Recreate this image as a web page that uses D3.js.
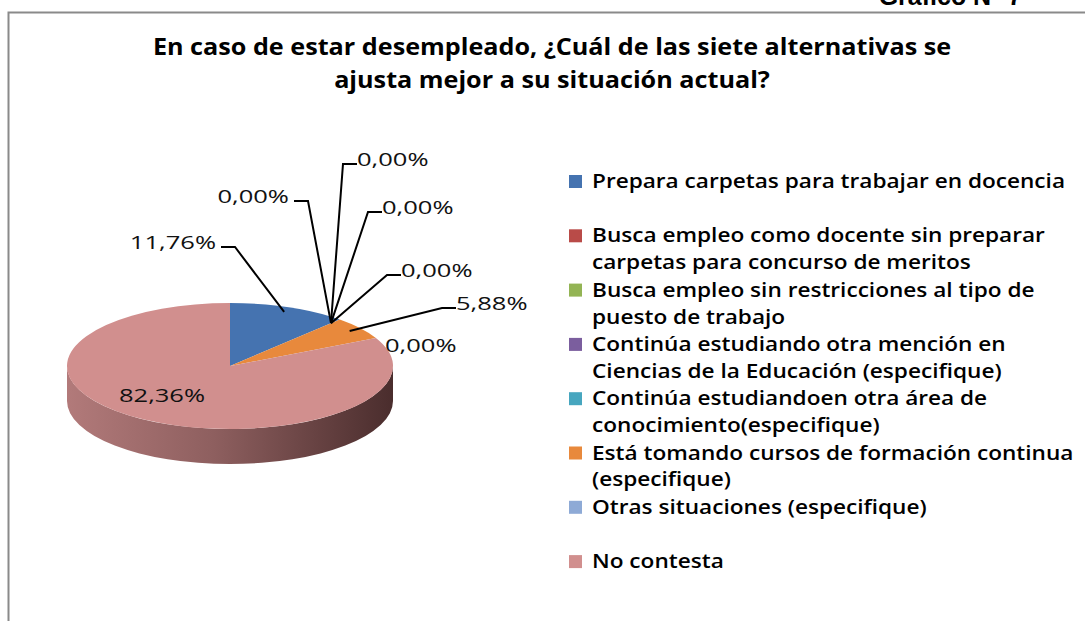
<!DOCTYPE html>
<html>
<head>
<meta charset="utf-8">
<script src="https://cdn.jsdelivr.net/npm/d3@7"></script>
<style>
  body { margin: 0; background: #fff; }
  text { font-family: "Open Sans", sans-serif; }
</style>
</head>
<body>
<div id="chart"></div>
<script>
// data
const title = [
  'En caso de estar desempleado, ¿Cuál de las siete alternativas se',
  'ajusta mejor a su situación actual?'
];
const categories = [
  'Prepara carpetas para trabajar en docencia',
  'Busca empleo como docente sin preparar carpetas para concurso de meritos',
  'Busca empleo sin restricciones al tipo de puesto de trabajo',
  'Continúa estudiando otra mención en Ciencias de la Educación (especifique)',
  'Continúa estudiandoen otra área de conocimiento(especifique)',
  'Está tomando cursos de formación continua (especifique)',
  'Otras situaciones (especifique)',
  'No contesta'
];
const values = [11.76, 0, 0, 0, 0, 5.88, 0, 82.36];
const colors = ['#4573B0', '#B94B48', '#93B454', '#7B5E9E', '#47A6BF', '#E8893C', '#8EAAD6', '#D18F8E'];

// where Excel put the data labels, as offsets from the pie centre
const labelLayout = [
  {dx: 5, dy: -119, side: 'left'},
  {dx: 78, dy: -165, side: 'left'},
  {dx: 113, dy: -202, side: 'right'},
  {dx: 138, dy: -154, side: 'right'},
  {dx: 157, dy: -91, side: 'right'},
  {dx: 212, dy: -58, side: 'right'},
  {dx: 155, dy: -16, side: 'none'},
  {dx: -68, dy: 34, side: 'inside'}
];

const width = 1085, height = 621;
const cx = 230, cy = 366, rx = 163, ry = 63, depth = 35;

const es = d3.formatLocale({decimal: ',', thousands: '.', grouping: [3], currency: ['', '']});
const pct = v => es.format('.2f')(v) + '%';

const svg = d3.select('#chart')
  .append('svg')
  .attr('width', width)
  .attr('height', height);

// frame (only top and left edges show in the crop)
svg.append('path')
  .attr('d', `M8.5,${height} V12.5 H${width}`)
  .attr('fill', 'none')
  .attr('stroke', '#8a8a8a')
  .attr('stroke-width', 2);

svg.append('text')
  .attr('x', 1022)
  .attr('y', 5)
  .attr('text-anchor', 'end')
  .style('font-family', '"Liberation Sans", Arial, sans-serif')
  .style('font-weight', 'bold')
  .style('font-size', '25px')
  .text('Gráfico N° 7');

// title
svg.append('g')
  .selectAll('text')
  .data(title)
  .enter()
  .append('text')
  .attr('transform', (d, i) => `translate(552,${55 + i * 33}) scale(1.05,1)`)
  .attr('text-anchor', 'middle')
  .style('font-weight', 'bold')
  .style('font-size', '24px')
  .style('fill', '#000')
  .text(d => d);

// pie
const pie = d3.pie().sort(null).value(d => d);
const arcs = pie(values);
const k = ry / rx;

const defs = svg.append('defs');
const grad = defs.append('linearGradient')
  .attr('id', 'side')
  .attr('x1', 0).attr('x2', 1).attr('y1', 0).attr('y2', 0);
grad.append('stop').attr('offset', '0%').attr('stop-color', '#B27A7A');
grad.append('stop').attr('offset', '45%').attr('stop-color', '#8E5F5F');
grad.append('stop').attr('offset', '100%').attr('stop-color', '#4A2D2D');

// side wall: front half is all "No contesta"
svg.append('path')
  .attr('d', `M${cx + rx},${cy} A${rx},${ry} 0 0 1 ${cx - rx},${cy} V${cy + depth}` +
    ` A${rx},${ry} 0 0 0 ${cx + rx},${cy + depth} Z`)
  .attr('fill', 'url(#side)');

const arc = d3.arc().innerRadius(0).outerRadius(rx);
svg.append('g')
  .attr('transform', `translate(${cx},${cy}) scale(1,${k})`)
  .selectAll('path')
  .data(arcs)
  .enter()
  .append('path')
  .attr('d', arc)
  .attr('fill', (d, i) => colors[i]);

// data labels + leader lines
const labelSX = 1.42;
const rimPoint = (a, r) => [cx + rx * r * Math.sin(a), cy - ry * r * Math.cos(a)];
const seg = 14;
const labels = svg.append('g');

arcs.forEach((d, i) => {
  const L = labelLayout[i];
  const ex = cx + L.dx, ey = cy + L.dy;
  const mid = (d.startAngle + d.endAngle) / 2;
  let tx = ex, anchor = 'start';

  if (L.side === 'left' || L.side === 'right') {
    const p = rimPoint(mid, 0.92);
    const hx = L.side === 'left' ? ex - seg : ex + seg;
    labels.append('path')
      .attr('d', `M${hx},${ey} H${ex} L${p[0]},${p[1]}`)
      .attr('fill', 'none')
      .attr('stroke', '#000')
      .attr('stroke-width', 2);
    if (L.side === 'left') { tx = hx - 5; anchor = 'end'; } else { tx = hx; }
  } else if (L.side === 'inside') {
    anchor = 'middle';
  }

  labels.append('text')
    .attr('transform', `translate(${tx},${ey + 2}) scale(${labelSX},1)`)
    .attr('text-anchor', anchor)
    .style('font-size', '18px')
    .style('font-weight', 500)
    .style('fill', '#111')
    .text(pct(d.data));
});

// legend
const legX = 569, legTextX = 592, legY = 188, legStep = 54.3, lineH = 27;
const legSX = 1.19, legMax = 488;
const legend = svg.append('g');

categories.forEach((c, i) => {
  const y0 = legY + i * legStep;
  legend.append('rect')
    .attr('x', legX)
    .attr('y', y0 - 13)
    .attr('width', 13)
    .attr('height', 13)
    .attr('fill', colors[i]);

  const t = legend.append('text')
    .attr('transform', `translate(${legTextX},${y0}) scale(${legSX},1)`)
    .style('font-size', '19px')
    .style('font-weight', 600)
    .style('fill', '#000');

  // word wrap at the legend width
  const words = c.split(' ');
  let line = [];
  let tspan = t.append('tspan').attr('x', 0).attr('dy', 0);
  words.forEach(w => {
    line.push(w);
    tspan.text(line.join(' '));
    if (tspan.node().getComputedTextLength() * legSX > legMax && line.length > 1) {
      line.pop();
      tspan.text(line.join(' '));
      line = [w];
      tspan = t.append('tspan').attr('x', 0).attr('dy', lineH).text(w);
    }
  });
});
</script>
</body>
</html>
